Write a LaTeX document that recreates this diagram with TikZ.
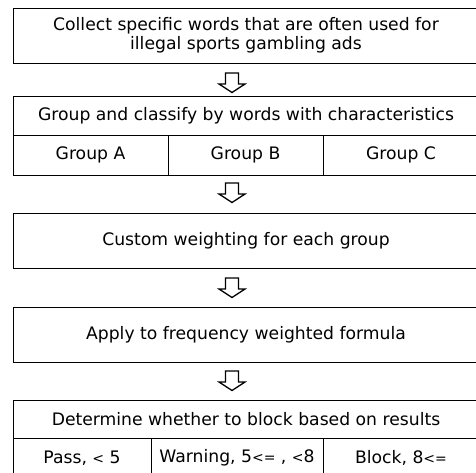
\documentclass[tikz,border=0pt]{standalone}
\usepackage{fontspec}
\setmainfont{DejaVu Sans}
\begin{document}
\begin{tikzpicture}[x=1pt,y=-1pt,
  cell/.style={draw=black, line width=0.9pt, rectangle, inner sep=0pt, font=\fontsize{17.2}{19.5}\selectfont, align=center},
  blockarrow/.style={draw=black, line width=1.3pt, fill=white, line join=miter}]
\newcommand\smsym[1]{{\fontsize{14}{16}\selectfont #1}}
\useasboundingbox (0,0) rectangle (476,472);
\begin{scope}
\clip (0,0) rectangle (476,472);
% Box 1
\node[cell, minimum width=466pt, minimum height=55pt] (b1) at (246,35.5) {Collect specific words that are often used for\\illegal sports gambling ads};
% Box 2
\node[cell, minimum width=466pt, minimum height=39pt] (b2) at (246,115.5) {Group and classify by words with characteristics};
\node[cell, minimum width=155pt, minimum height=40pt] (ga) at (90.5,155) {Group A};
\node[cell, minimum width=155pt, minimum height=40pt] (gb) at (245.5,155) {Group B};
\node[cell, minimum width=156pt, minimum height=40pt] (gc) at (401,155) {Group C};
% Box 3
\node[cell, minimum width=466pt, minimum height=55pt] (b3) at (246,240.5) {Custom weighting for each group};
% Box 4
\node[cell, minimum width=466pt, minimum height=55pt] (b4) at (246,334.5) {Apply to frequency weighted formula};
% Box 5
\node[cell, minimum width=466pt, minimum height=38pt] (b5) at (246,419) {Determine whether to block based on results};
\node[cell, minimum width=138pt, minimum height=40pt] (rp) at (82,458) {Pass, \smsym{<} 5};
\node[cell, minimum width=172pt, minimum height=40pt] (rw) at (237,458) {Warning, 5\smsym{<=} , \smsym{<}8};
\node[cell, minimum width=156pt, minimum height=40pt] (rb) at (401,458) {Block, 8\smsym{<=}};
\end{scope}
% Arrows
\coordinate (a1) at (232,73);
\coordinate (a2) at (232,183);
\coordinate (a3) at (232,278);
\coordinate (a4) at (232,371);
\foreach \a in {a1,a2,a3,a4}{
  \draw[blockarrow] ([xshift=-6.5pt]\a) -- ([xshift=6.5pt]\a) -- ([xshift=6.5pt,yshift=-11pt]\a) -- ([xshift=13pt,yshift=-11pt]\a) -- ([yshift=-19.5pt]\a) -- ([xshift=-13pt,yshift=-11pt]\a) -- ([xshift=-6.5pt,yshift=-11pt]\a) -- cycle;
}
\end{tikzpicture}
\end{document}
